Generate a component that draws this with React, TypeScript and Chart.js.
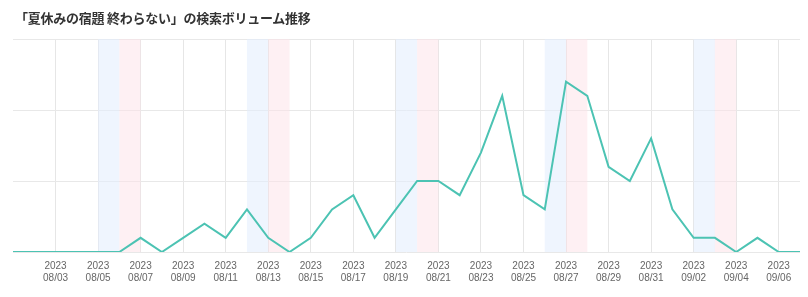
import React, { useEffect, useRef } from 'react';
import { Chart, registerables } from 'chart.js';

Chart.register(...registerables);

const TITLE = '「夏休みの宿題 終わらない」の検索ボリューム推移';
const YEAR = '2023';
const dates = [
  '08/01', '08/02', '08/03', '08/04', '08/05', '08/06', '08/07', '08/08', '08/09', '08/10',
  '08/11', '08/12', '08/13', '08/14', '08/15', '08/16', '08/17', '08/18', '08/19', '08/20',
  '08/21', '08/22', '08/23', '08/24', '08/25', '08/26', '08/27', '08/28', '08/29', '08/30',
  '08/31', '09/01', '09/02', '09/03', '09/04', '09/05', '09/06', '09/07',
];
const volumes = [
  0, 0, 0, 0, 0, 0, 1, 0, 1, 2,
  1, 3, 1, 0, 1, 3, 4, 1, 3, 5,
  5, 4, 7, 11, 4, 3, 12, 11, 6, 5,
  8, 3, 1, 1, 0, 1, 0, 0,
];
const Y_MAX = 15;
const Y_STEP = 5;

const dayOfWeek = (d: string) => {
  const [m, day] = d.split('/').map(Number);
  return new Date(Number(YEAR), m - 1, day).getDay();
};

const weekendPlugin = {
  id: 'weekendBands',
  beforeDatasetsDraw(chart: any) {
    const { ctx, chartArea, scales } = chart;
    const x = scales.x;
    ctx.save();
    dates.forEach((d, i) => {
      const dow = dayOfWeek(d);
      if (dow !== 6 && dow !== 0) return;
      if (i + 1 >= dates.length) return;
      const x0 = x.getPixelForValue(i);
      const x1 = x.getPixelForValue(i + 1);
      ctx.fillStyle = dow === 6 ? 'rgba(225,236,253,0.55)' : 'rgba(253,226,231,0.5)';
      ctx.fillRect(x0, chartArea.top, x1 - x0, chartArea.bottom - chartArea.top);
    });
    ctx.restore();
  },
};

export default function App() {
  const ref = useRef<HTMLCanvasElement>(null);
  useEffect(() => {
    if (!ref.current) return;
    const chart = new Chart(ref.current, {
      type: 'line',
      data: {
        labels: dates,
        datasets: [
          {
            data: volumes,
            borderColor: '#4cc3b3',
            borderWidth: 2,
            pointRadius: 0,
            tension: 0,
            fill: false,
          },
        ],
      },
      options: {
        animation: false,
        responsive: false,
        maintainAspectRatio: false,
        layout: { padding: { left: 13, right: 7, top: 39, bottom: 5 } },
        plugins: {
          legend: { display: false },
          tooltip: { enabled: false },
          title: { display: false },
        },
        scales: {
          x: {
            offset: false,
            border: { display: false },
            grid: {
              drawTicks: false,
              color: (c: any) => (c.index > 0 && c.index % 2 === 0 ? '#e6e6e6' : 'rgba(0,0,0,0)'),
            },
            ticks: {
              autoSkip: false,
              maxRotation: 0,
              padding: 8,
              color: '#666',
              font: { family: 'Liberation Sans, Arial, sans-serif', size: 10 },
              callback: (_v: any, i: number) => (i > 0 && i % 2 === 0 ? [YEAR, dates[i]] : ''),
            },
          },
          y: {
            min: 0,
            max: Y_MAX,
            border: { display: false },
            grid: { drawTicks: false, color: '#e8e8e8' },
            ticks: { display: false, stepSize: Y_STEP },
          },
        },
      },
      plugins: [weekendPlugin],
    });
    return () => chart.destroy();
  }, []);

  return (
    <div style={{ position: 'fixed', left: 0, top: 0, width: 808, height: 297, background: '#fff' }}>
      <canvas ref={ref} width={808} height={297} style={{ position: 'absolute', left: 0, top: 0, width: 808, height: 297 }} />
      <div
        style={{
          position: 'absolute',
          left: 15,
          top: 9,
          fontFamily: '"Noto Sans CJK JP", sans-serif',
          fontWeight: 700,
          fontSize: 13,
          letterSpacing: '-0.25px',
          lineHeight: '18px',
          color: '#333',
          whiteSpace: 'nowrap',
        }}
      >
        {TITLE}
      </div>
    </div>
  );
}
